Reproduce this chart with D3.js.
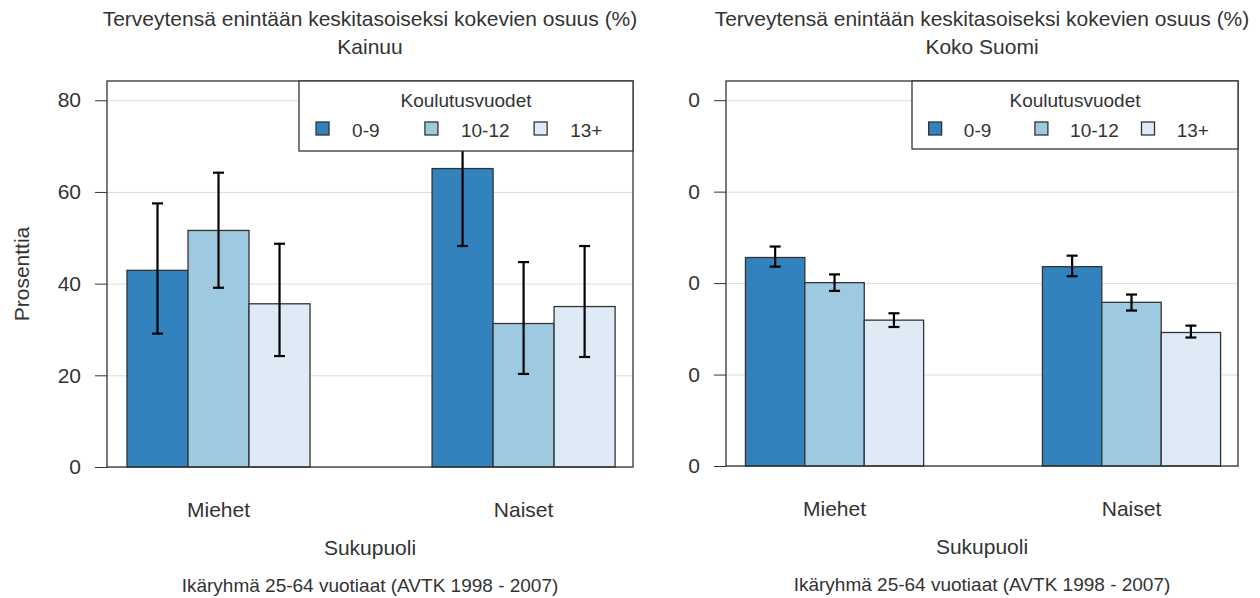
<!DOCTYPE html>
<html>
<head>
<meta charset="utf-8">
<script src="https://cdn.jsdelivr.net/npm/d3@7"></script>
<style>
  body { margin: 0; background: #fff; }
  svg text { font-family: "Liberation Sans", Arial, sans-serif; fill: #333; }
  .grid line { stroke: #dcdcdc; stroke-width: 1; }
  .grid .domain { display: none; }
  .yaxis .domain { display: none; }
  .yaxis line { stroke: #333; }
  .yaxis text { font-size: 21px; }
</style>
</head>
<body>
<script>
var groups = ["Miehet", "Naiset"];
var series = ["0-9", "10-12", "13+"];
var yTicks = [0, 20, 40, 60, 80];

// Kainuu (rows = groups, cols = series)
var kainuuValues = [[42.9, 51.6, 35.6], [65.1, 31.3, 35.0]];
var kainuuLow    = [[29.1, 39.1, 24.2], [48.2, 20.3, 24.0]];
var kainuuHigh   = [[57.5, 64.2, 48.7], [82.0, 44.7, 48.2]];

// Koko Suomi
var suomiValues = [[45.6, 40.1, 31.9], [43.6, 35.8, 29.2]];
var suomiLow    = [[43.6, 38.3, 30.4], [41.5, 34.0, 28.1]];
var suomiHigh   = [[48.0, 41.9, 33.4], [46.0, 37.5, 30.7]];

var titleLine1 = "Terveytensä enintään keskitasoiseksi kokevien osuus (%)";
var xTitle = "Sukupuoli";
var yTitle = "Prosenttia";
var footer = "Ikäryhmä 25-64 vuotiaat (AVTK 1998 - 2007)";
var legendTitle = "Koulutusvuodet";

var color = d3.scaleOrdinal()
    .domain(series)
    .range(["#3182bd", "#9ecae1", "#deebf7"]);

var svg = d3.select("body").append("svg")
    .attr("width", 1260)
    .attr("height", 598);

drawPanel({
    left: 107, right: 633, top: 81, bottom: 467,
    legendLeft: 299, legendBottom: 151,
    title: "Kainuu",
    values: kainuuValues, low: kainuuLow, high: kainuuHigh,
    tickFormat: d3.format("d"),
    yLabel: true
});

drawPanel({
    left: 726, right: 1238, top: 81, bottom: 466,
    legendLeft: 912, legendBottom: 149,
    title: "Koko Suomi",
    values: suomiValues, low: suomiLow, high: suomiHigh,
    tickFormat: function() { return "0"; },
    yLabel: false
});

function drawPanel(p) {
    var w = p.right - p.left;
    var cx = (p.left + p.right) / 2;

    var yScale = d3.scaleLinear()
        .domain([0, 84.2])
        .range([p.bottom, p.top]);

    var xGroup = d3.scaleBand()
        .domain(groups)
        .range([p.left + w * 0.038, p.right - w * 0.034])
        .paddingInner(0.4)
        .paddingOuter(0);

    var xSeries = d3.scaleBand()
        .domain(series)
        .range([0, xGroup.bandwidth()]);

    var g = svg.append("g");

    // titles
    g.append("text")
        .attr("x", cx).attr("y", 26)
        .attr("text-anchor", "middle")
        .style("font-size", "21px")
        .text(titleLine1);
    g.append("text")
        .attr("x", cx).attr("y", 54)
        .attr("text-anchor", "middle")
        .style("font-size", "21px")
        .text(p.title);

    // gridlines
    g.append("g")
        .attr("class", "grid")
        .attr("transform", "translate(" + p.left + ",0)")
        .call(d3.axisLeft(yScale).tickValues(yTicks).tickSize(-w).tickFormat(""));

    // bars
    var rows = [];
    groups.forEach(function(grp, i) {
        series.forEach(function(s, j) {
            rows.push({group: grp, series: s, value: p.values[i][j],
                       low: p.low[i][j], high: p.high[i][j]});
        });
    });

    g.selectAll(".bar")
        .data(rows)
        .enter()
        .append("rect")
        .attr("class", "bar")
        .attr("x", function(d) { return xGroup(d.group) + xSeries(d.series); })
        .attr("y", function(d) { return yScale(d.value); })
        .attr("width", xSeries.bandwidth())
        .attr("height", function(d) { return p.bottom - yScale(d.value); })
        .style("fill", function(d) { return color(d.series); })
        .style("stroke", "#333")
        .style("stroke-width", 1.3);

    // error bars
    var err = g.selectAll(".err")
        .data(rows)
        .enter()
        .append("g")
        .attr("class", "err")
        .attr("transform", function(d) {
            return "translate(" + (xGroup(d.group) + xSeries(d.series) + xSeries.bandwidth() / 2) + ",0)";
        })
        .style("stroke", "#000")
        .style("stroke-width", 2.2);

    err.append("line")
        .attr("y1", function(d) { return yScale(d.low); })
        .attr("y2", function(d) { return yScale(d.high); });
    err.append("line")
        .attr("x1", -5.5).attr("x2", 5.5)
        .attr("y1", function(d) { return yScale(d.low); })
        .attr("y2", function(d) { return yScale(d.low); });
    err.append("line")
        .attr("x1", -5.5).attr("x2", 5.5)
        .attr("y1", function(d) { return yScale(d.high); })
        .attr("y2", function(d) { return yScale(d.high); });

    // plot border
    g.append("rect")
        .attr("x", p.left).attr("y", p.top)
        .attr("width", w).attr("height", p.bottom - p.top)
        .style("fill", "none")
        .style("stroke", "#333")
        .style("stroke-width", 1.3);

    // y axis ticks
    g.append("g")
        .attr("class", "yaxis")
        .attr("transform", "translate(" + p.left + ",0)")
        .call(d3.axisLeft(yScale).tickValues(yTicks).tickSize(12).tickPadding(14)
              .tickFormat(p.tickFormat));

    if (p.yLabel) {
        g.append("text")
            .attr("transform", "rotate(-90)")
            .attr("x", -(p.top + p.bottom) / 2)
            .attr("y", 29)
            .attr("text-anchor", "middle")
            .style("font-size", "21px")
            .text(yTitle);
    }

    // group labels
    g.selectAll(".glabel")
        .data(groups)
        .enter()
        .append("text")
        .attr("class", "glabel")
        .attr("x", function(d) { return xGroup(d) + xGroup.bandwidth() / 2; })
        .attr("y", p.bottom + 50)
        .attr("text-anchor", "middle")
        .style("font-size", "21px")
        .text(function(d) { return d; });

    g.append("text")
        .attr("x", cx).attr("y", p.bottom + 88)
        .attr("text-anchor", "middle")
        .style("font-size", "21px")
        .text(xTitle);

    g.append("text")
        .attr("x", cx).attr("y", p.bottom + 125)
        .attr("text-anchor", "middle")
        .style("font-size", "19px")
        .text(footer);

    // legend
    var lw = p.right - p.legendLeft;
    var leg = g.append("g")
        .attr("transform", "translate(" + p.legendLeft + "," + p.top + ")");

    leg.append("rect")
        .attr("width", lw)
        .attr("height", p.legendBottom - p.top)
        .style("fill", "#fff")
        .style("stroke", "#333")
        .style("stroke-width", 1.3);

    leg.append("text")
        .attr("x", lw / 2).attr("y", 26)
        .attr("text-anchor", "middle")
        .style("font-size", "19px")
        .text(legendTitle);

    var boxPos = [0.051, 0.377, 0.704];
    var item = leg.selectAll(".item")
        .data(series)
        .enter()
        .append("g")
        .attr("class", "item")
        .attr("transform", function(d, i) {
            return "translate(" + (lw * boxPos[i]) + ",41)";
        });

    item.append("rect")
        .attr("width", 13).attr("height", 13)
        .style("fill", function(d) { return color(d); })
        .style("stroke", "#333")
        .style("stroke-width", 1.3);

    item.append("text")
        .attr("x", lw * 0.108).attr("y", 15)
        .style("font-size", "19px")
        .text(function(d) { return d; });
}
</script>
</body>
</html>
